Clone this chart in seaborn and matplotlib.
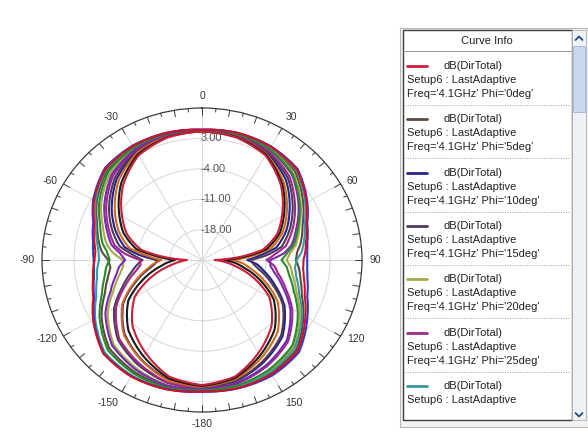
import numpy as np
import pandas as pd
import matplotlib
matplotlib.use("Agg")
import matplotlib.pyplot as plt
from matplotlib.patches import Rectangle
import seaborn as sns

# Far-field cut: theta sweep (deg) and directivity dB(DirTotal) per phi cut, 4.1 GHz
theta_deg = [-180, -165, -150, -135, -120, -110, -100, -95, -90, -85, -80, -70, -60, -45, -30, -15,
             0, 15, 30, 45, 60, 70, 80, 85, 90, 95, 100, 110, 120, 135, 150, 165, 180]

phi_0 = [3.8, 2.8, -0.3, -3.5, -8.0, -13.0, -18.0, -20.0, -21.7, -16.5, -11.5, -7.5, -4.8, -0.6, 2.8, 4.2,
         4.6, 4.2, 2.8, -0.6, -4.8, -7.5, -11.5, -16.5, -22.2, -20.0, -18.0, -13.0, -8.0, -3.5, -0.3, 2.8, 3.8]
phi_5 = [5.1, 5.2, 4.7, 3.7, 0.4, -2.4, -4.2, -4.9, -4.5, -3.0, -2.1, -0.6, 1.6, 4.3, 5.1, 5.2,
         4.9, 5.1, 4.8, 3.8, 0.6, -1.6, -3.1, -4.1, -4.5, -3.7, -3.2, -1.8, 0.6, 4.2, 5.1, 5.3, 5.1]
phi_10 = [4.3, 3.6, 1.5, -1.0, -5.1, -9.3, -13.2, -14.7, -15.2, -11.1, -7.8, -4.8, -2.2, 1.4, 3.7, 4.6,
          4.7, 4.5, 3.5, 1.0, -2.9, -5.4, -8.5, -12.1, -15.1, -12.8, -11.4, -8.0, -4.2, -0.1, 2.1, 3.9, 4.3]
phi_15 = [4.4, 4.3, 2.9, 1.0, -2.8, -6.4, -9.4, -10.6, -12.0, -9.6, -6.7, -4.0, -1.5, 1.9, 4.0, 4.7,
          4.8, 4.7, 3.8, 1.6, -2.1, -4.6, -7.3, -10.4, -14.4, -13.7, -12.3, -8.6, -4.6, -0.5, 1.8, 3.8, 4.4]
phi_20 = [4.9, 4.8, 3.8, 2.4, -1.2, -4.4, -6.8, -7.7, -7.7, -5.4, -3.8, -1.9, 0.5, 3.4, 4.7, 5.0,
          4.9, 5.0, 4.6, 3.3, 0.0, -2.3, -4.1, -5.6, -6.5, -5.5, -4.9, -3.0, -0.3, 3.3, 4.5, 5.0, 4.9]
phi_25 = [4.6, 4.2, 2.5, 0.6, -3.3, -7.0, -10.3, -11.5, -11.5, -8.0, -5.6, -3.2, -0.8, 2.5, 4.2, 4.8,
          4.8, 4.8, 4.0, 2.1, -1.5, -3.9, -6.4, -8.9, -10.9, -9.1, -8.2, -5.5, -2.2, 1.6, 3.3, 4.5, 4.6]
phi_30 = [5.2, 5.7, 5.7, 5.1, 2.0, -0.4, -1.7, -2.0, -2.5, -2.3, -1.7, -0.3, 1.9, 4.6, 5.2, 5.2,
          5.0, 5.2, 5.0, 4.2, 1.1, -1.1, -2.4, -3.1, -4.3, -4.6, -4.1, -2.4, 0.2, 3.7, 4.8, 5.2, 5.2]
phi_35 = [4.2, 3.7, 1.6, -0.8, -4.9, -9.0, -12.8, -14.3, -16.1, -12.7, -8.8, -5.6, -3.0, 0.8, 3.5, 4.5,
          4.7, 4.4, 3.2, 0.3, -3.6, -6.2, -9.7, -13.9, -18.2, -16.0, -14.4, -10.3, -5.9, -1.6, 1.0, 3.4, 4.2]
phi_40 = [4.0, 3.2, 0.6, -2.2, -6.4, -11.0, -15.4, -17.2, -19.1, -15.0, -10.4, -6.7, -4.1, 0.0, 3.1, 4.3,
          4.6, 4.3, 3.0, -0.2, -4.3, -6.9, -10.7, -15.3, -20.2, -17.8, -16.0, -11.5, -6.9, -2.5, 0.4, 3.1, 4.0]
phi_45 = [4.7, 4.9, 4.1, 2.8, -0.6, -3.7, -6.0, -6.8, -8.2, -7.0, -4.9, -2.7, -0.3, 2.9, 4.4, 4.9,
          4.9, 4.9, 4.4, 2.8, -0.6, -3.0, -5.1, -7.0, -10.1, -10.0, -9.0, -6.1, -2.7, 1.2, 3.0, 4.3, 4.7]
phi_50 = [5.0, 5.4, 5.1, 4.2, 0.9, -1.7, -3.4, -3.9, -4.8, -4.2, -2.9, -1.3, 1.0, 3.9, 4.9, 5.1,
          4.9, 5.0, 4.5, 3.0, -0.3, -2.6, -4.6, -6.3, -7.6, -6.4, -5.7, -3.6, -0.8, 2.9, 4.2, 4.9, 5.0]
phi_55 = [5.3, 5.7, 5.9, 5.4, 2.3, 0.1, -1.0, -1.3, -1.3, -1.1, -0.8, 0.3, 2.5, 5.0, 5.4, 5.3,
          5.0, 5.3, 5.2, 4.6, 1.6, -0.5, -1.6, -1.9, -2.0, -1.9, -1.6, -0.5, 1.6, 5.0, 5.7, 5.6, 5.3]
phi_60 = [5.3, 5.8, 6.0, 5.5, 2.5, 0.3, -0.8, -1.1, -1.5, -1.6, -1.1, 0.1, 2.3, 4.8, 5.3, 5.3,
          5.0, 5.3, 5.1, 4.4, 1.4, -0.7, -1.9, -2.3, -2.8, -2.8, -2.4, -1.1, 1.1, 4.6, 5.4, 5.5, 5.3]

phi_cuts = [0, 5, 10, 15, 20, 25, 30, 35, 40, 45, 50, 55, 60]
curves = [phi_0, phi_5, phi_10, phi_15, phi_20, phi_25, phi_30,
          phi_35, phi_40, phi_45, phi_50, phi_55, phi_60]
phi_colors = {0: '#c8203a', 5: '#5a4a40', 10: '#24248c', 15: '#503a58', 20: '#a8a848',
              25: '#a02888', 30: '#3a9a9a', 35: '#d06a18', 40: '#1a1a1a', 45: '#7a2ab0',
              50: '#2a8a2a', 55: '#2a3ad0', 60: '#d0102a'}

ring_values = [-18, -11, -4, 3]
r_min, r_max = -25, 10
theta_label_angles = [0, 30, 60, 90, 120, 150, 180, 210, 240, 270, 300, 330]
theta_labels = ['0', '30', '60', '90', '120', '150', '-180', '-150', '-120', '-90', '-60', '-30']

legend_phis = [0, 5, 10, 15, 20, 25, 30]

df = pd.DataFrame({
    'theta': np.deg2rad(np.tile(theta_deg, len(curves))),
    'dB': np.concatenate(curves),
    'phi': np.repeat(phi_cuts, len(theta_deg)),
})

sns.set_style('white')
plt.rcParams['font.family'] = ['Liberation Sans', 'DejaVu Sans']

W, H = 588, 434
fig = plt.figure(figsize=(W / 100, H / 100), dpi=100)
fig.patch.set_facecolor('white')

# ---- polar pattern ----
cx, cy, rx, ry = 202, 260, 160, 152
ax = fig.add_axes([(cx - rx) / W, (H - cy - ry) / H, 2 * rx / W, 2 * ry / H], projection='polar')
ax.set_aspect('auto')
ax.set_theta_zero_location('N')
ax.set_theta_direction(-1)

draw_order = [p for p in phi_cuts if p not in (0, 60)] + [0, 60]
sns.lineplot(data=df, x='theta', y='dB', hue='phi', hue_order=draw_order, palette=phi_colors,
             sort=False, estimator=None, lw=1.5, legend=False, ax=ax)
# let the polar transform follow the angle between samples (arcs instead of chords)
for ln in ax.lines:
    ln.get_path()._interpolation_steps = 40
ax.set_xlabel('')
ax.set_ylabel('')

ax.set_ylim(r_min, r_max)
ax.set_yticks(ring_values)
ax.set_yticklabels([])
ax.set_xticks(np.deg2rad(np.arange(0, 360, 30)))
ax.set_xticklabels([])
ax.tick_params(axis='both', length=0)
ax.grid(True, color='#d6d6d6', lw=0.7)
ax.spines['polar'].set_color('#3a3a3a')
ax.spines['polar'].set_linewidth(0.9)

# outer scale ticks every 5 degrees, longer at every 10
for t in range(0, 360, 5):
    L = 1.5 if t % 10 == 0 else 0.8
    ax.plot([np.deg2rad(t)] * 2, [r_max - L, r_max], color='#3a3a3a', lw=0.7, clip_on=False)

# angle labels
for a, lab in zip(theta_label_angles, theta_labels):
    s, c = np.sin(np.deg2rad(a)), np.cos(np.deg2rad(a))
    ha = 'left' if s > 0.3 else ('right' if s < -0.3 else 'center')
    va = 'bottom' if c > 0.6 else ('top' if c < -0.6 else 'center')
    ax.text(np.deg2rad(a), r_max + 1.6, lab, ha=ha, va=va, fontsize=7.5,
            color='#333333', clip_on=False)

# ring labels
for v in ring_values:
    ax.annotate(f'{v:.2f}', xy=(0, v), xytext=(-1, 0), textcoords='offset points',
                ha='left', va='center', fontsize=8, color='#555555')

# ---- curve info panel ----
pan = fig.add_axes([0, 0, 1, 1], zorder=5)
pan.set_xlim(0, W)
pan.set_ylim(H, 0)
pan.axis('off')

pan.add_patch(Rectangle((400, 28), 188, 399, fc='#f3f3f3', ec='#b8b8b8', lw=0.8))
pan.add_patch(Rectangle((402.5, 30), 169, 390, fc='white', ec='#3c3c3c', lw=1.0))
pan.add_patch(Rectangle((572, 30), 14, 390, fc='#eef1f6', ec='#b4b4b4', lw=0.6))
pan.add_patch(Rectangle((573, 46), 12, 66, fc='#c9d8ee', ec='#9fb4d4', lw=0.6))
pan.plot([575.5, 579, 582.5], [40, 36.5, 40], color='#2a4a80', lw=1.3)
pan.plot([575.5, 579, 582.5], [413, 416.5, 413], color='#2a4a80', lw=1.3)

pan.text(487, 41, 'Curve Info', ha='center', va='center', fontsize=8, color='#222222')
pan.plot([403, 571], [51, 51], color='#9a9a9a', lw=0.7)

y0, step = 66, 53.3
for i, p in enumerate(legend_phis):
    y = y0 + i * step
    pan.plot([407, 427], [y, y], color=phi_colors[p], lw=2.0)
    pan.text(444, y, 'dB(DirTotal)', ha='left', va='center', fontsize=8, color='#222222')
    if y + 14 < 408:
        pan.text(407, y + 14, 'Setup6 : LastAdaptive', ha='left', va='center',
                 fontsize=8, color='#222222')
    if y + 28 < 408:
        pan.text(407, y + 28, f"Freq='4.1GHz' Phi='{p}deg'", ha='left', va='center',
                 fontsize=8, color='#222222')
    if y + 39 < 408:
        pan.plot([405, 569], [y + 39, y + 39], color='#a0a0a0', lw=0.7, ls=(0, (1, 1.5)))

fig.savefig('out.png', dpi=100, facecolor='white')
